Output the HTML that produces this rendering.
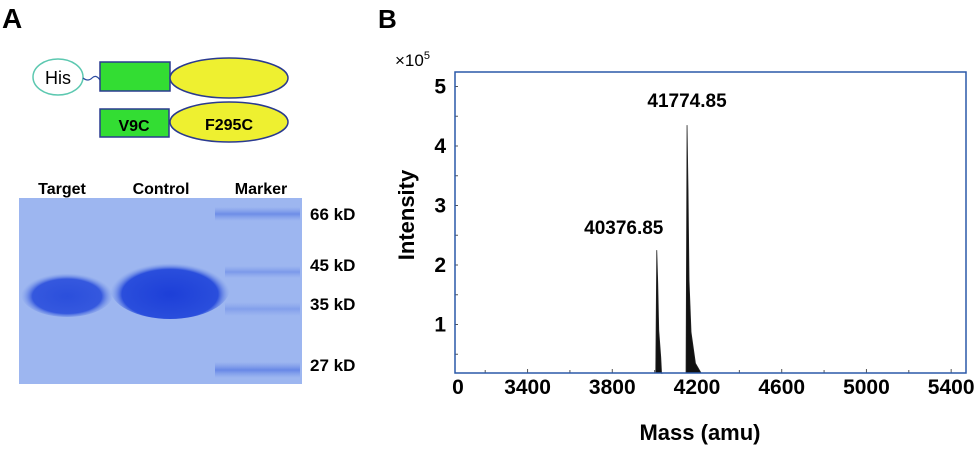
<!DOCTYPE html>
<html><head><meta charset="utf-8"><style>
body{margin:0;background:#fff;font-family:"Liberation Sans",sans-serif}
svg text{font-family:"Liberation Sans",sans-serif;font-weight:bold}
</style></head><body>
<svg width="975" height="446" viewBox="0 0 975 446">
<defs>
<radialGradient id="bandT" cx="50%" cy="55%" r="50%"><stop offset="0" stop-color="#2b4fdc"/><stop offset="0.75" stop-color="#3558de"/><stop offset="1" stop-color="#7d9be8" stop-opacity="0"/></radialGradient>
<radialGradient id="bandC" cx="50%" cy="60%" r="50%"><stop offset="0" stop-color="#1d3fd8"/><stop offset="0.8" stop-color="#2a4edc"/><stop offset="1" stop-color="#7d9be8" stop-opacity="0"/></radialGradient>
<linearGradient id="mk" x1="0" y1="0" x2="0" y2="1"><stop offset="0" stop-color="#6e8ee8" stop-opacity="0"/><stop offset="0.5" stop-color="#5a7ce4"/><stop offset="1" stop-color="#6e8ee8" stop-opacity="0"/></linearGradient>
</defs>
<g>
<text x="2" y="28" font-size="28">A</text>
<ellipse cx="58" cy="77" rx="25" ry="18" fill="#fff" stroke="#5cc8b0" stroke-width="1.5"/>
<text x="58" y="84" font-size="18" text-anchor="middle" style="font-weight:normal">His</text>
<path d="M83 78 q5 4 9 0 q4 -4 8 2" fill="none" stroke="#2a4aa0" stroke-width="1.2"/>
<rect x="100" y="62" width="70" height="29" fill="#33dd33" stroke="#2a3a90" stroke-width="1.5"/>
<ellipse cx="229" cy="78" rx="59" ry="20" fill="#eef030" stroke="#2a3a90" stroke-width="1.5"/>
<rect x="100" y="109" width="69" height="28" fill="#33dd33" stroke="#2a3a90" stroke-width="1.5"/>
<text x="134" y="131" font-size="16" text-anchor="middle">V9C</text>
<ellipse cx="229" cy="122" rx="59" ry="20" fill="#eef030" stroke="#2a3a90" stroke-width="1.5"/>
<text x="229" y="130" font-size="16" text-anchor="middle">F295C</text>
<text x="62" y="194" font-size="16" text-anchor="middle">Target</text>
<text x="161" y="194" font-size="16" text-anchor="middle">Control</text>
<text x="261" y="194" font-size="16" text-anchor="middle">Marker</text>
<rect x="19" y="198" width="283" height="186" fill="#9db6f0"/>
<rect x="215" y="207" width="85" height="14" fill="url(#mk)" opacity="0.7"/>
<rect x="225" y="266" width="75" height="12" fill="url(#mk)" opacity="0.5"/>
<rect x="225" y="302" width="75" height="14" fill="url(#mk)" opacity="0.4"/>
<rect x="215" y="362" width="85" height="16" fill="url(#mk)" opacity="0.8"/>
<ellipse cx="67" cy="294" rx="46" ry="23" fill="url(#bandT)"/>
<ellipse cx="170" cy="288" rx="60" ry="31" fill="url(#bandC)"/>
<text x="310" y="220" font-size="17">66 kD</text>
<text x="310" y="271" font-size="17">45 kD</text>
<text x="310" y="310" font-size="17">35 kD</text>
<text x="310" y="371" font-size="17">27 kD</text>
</g>
<g>
<text x="378" y="28" font-size="26">B</text>
<text x="395" y="66" font-size="17" style="font-weight:normal">×10<tspan font-size="11" dy="-7">5</tspan></text>
<g id="axes"></g>
<g id="spec"></g>
<rect x="455" y="72" width="511" height="301" fill="none" stroke="#2a58a8" stroke-width="1.5"/>
<text transform="translate(414,215) rotate(-90)" font-size="22" text-anchor="middle">Intensity</text>
<text x="700" y="440" font-size="22" text-anchor="middle">Mass (amu)</text>
</g>
</svg>
<script>
const yTicks=[1,2,3,4,5];
const xTicks=[3400,3800,4200,4600,5000,5400];
const peakMasses=[4010,4153];
const peakHeights=[2.25,4.35];
const peakLabels=["40376.85","41774.85"];
const ns="http://www.w3.org/2000/svg";
const X=m=>697+(m-4200)*0.2118;
const Y=v=>384-59.5*v;
function mk(t,a,p){const e=document.createElementNS(ns,t);for(const k in a)e.setAttribute(k,a[k]);p.appendChild(e);return e;}
const ax=document.getElementById('axes'),sp=document.getElementById('spec');
yTicks.forEach(v=>{
 const t=mk('text',{x:446,y:Y(v)+7,'font-size':21,'text-anchor':'end'},ax);t.textContent=v;
 
 
 mk('line',{x1:455,x2:458,y1:Y(v),y2:Y(v),stroke:'#555'},ax);
 mk('line',{x1:455,x2:458,y1:Y(v-0.5),y2:Y(v-0.5),stroke:'#555'},ax);
});
const z=mk('text',{x:458,y:394,'font-size':21,'text-anchor':'middle'},ax);z.textContent='0';


xTicks.forEach(m=>{
 const t=mk('text',{x:X(m),y:394,'font-size':21,'text-anchor':'middle'},ax);t.textContent=m;
 
 
 mk('line',{x1:X(m),x2:X(m),y1:373,y2:369,stroke:'#555'},ax);
 mk('line',{x1:X(m-200),x2:X(m-200),y1:373,y2:370,stroke:'#555'},ax);
});
peakMasses.forEach((m,i)=>{
 const h=peakHeights[i],x0=X(m);
 const w=i?14:8;
 const d=`M${x0-1} 373 L${x0} ${Y(h)} L${x0+1} ${Y(h*0.75)} L${x0+2} ${Y(h*0.4)} L${x0+4} ${Y(h*0.2)} L${x0+w*0.6} ${Y(h*0.08)} L${x0+w} 373 Z`;
 const p=mk('path',{d:d,fill:'#111',stroke:'#222','stroke-width':0.8},sp);
 
 
 const t=mk('text',{x:x0-(i?0:33),y:Y(h)-(i?18:16),'font-size':19,'text-anchor':'middle'},sp);
 t.textContent=peakLabels[i];
 
 
});
</script>
</body></html>
